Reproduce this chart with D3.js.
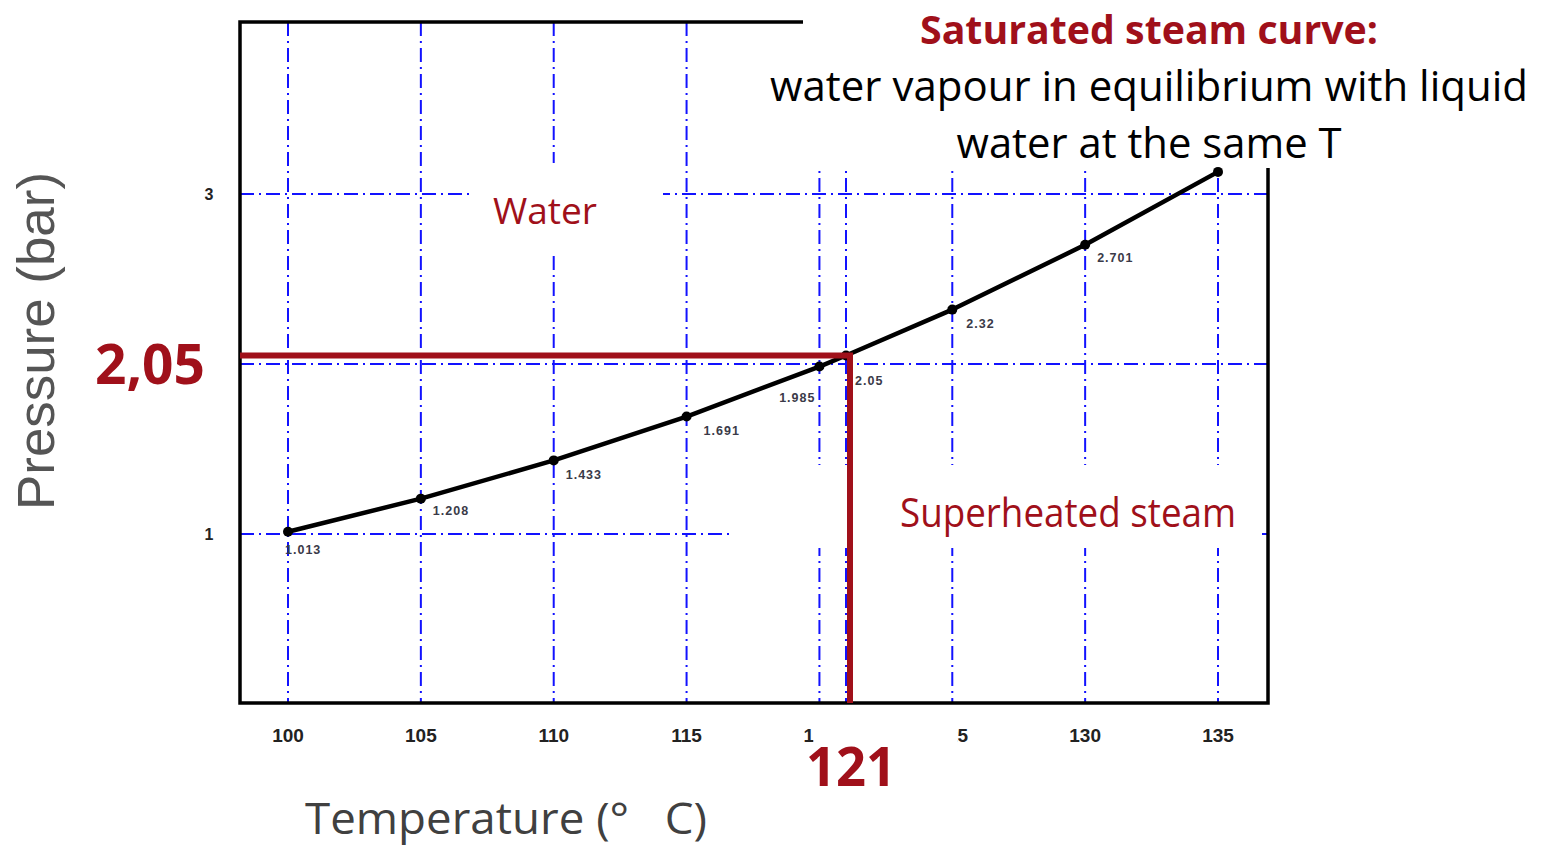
<!DOCTYPE html>
<html>
<head>
<meta charset="utf-8">
<script src="https://cdn.jsdelivr.net/npm/d3@7"></script>
<style>
    body { margin: 0; background: #fff; }
    svg { display: block; }
</style>
</head>
<body>
<div id="chart"></div>
<script>
// saturated steam table, temperature in C, pressure in bar
const temps = [100, 105, 110, 115, 120, 121, 125, 130, 135];
const pressures = [1.013, 1.208, 1.433, 1.691, 1.985, 2.05, 2.32, 2.701, 3.13];
const pointLabels = ["1.013", "1.208", "1.433", "1.691", "1.985", "2.05", "2.32", "2.701", ""];

const gridTemps = [100, 105, 110, 115, 120, 121, 125, 130, 135];
const gridPressures = [1, 2, 3];
const xTickLabels = [100, 105, 110, 115, 120, 125, 130, 135];
const yTickLabels = [1, 3];

const markTemp = 121;
const markPressure = 2.05;

const width = 1546, height = 845;
const frame = {left: 240, right: 1268, top: 22, bottom: 703};
const red = "#a0101a";
const blue = "#1212ff";

const svg = d3.select("#chart").append("svg")
    .attr("width", width)
    .attr("height", height);

const x = d3.scaleLinear().domain([100, 135]).range([288, 1218]);
const y = d3.scaleLinear().domain([1, 3]).range([534, 194]);

// dash-dot grid
const grid = svg.append("g")
    .attr("stroke", blue)
    .attr("stroke-width", 2)
    .attr("stroke-dasharray", "14,5,2,5");

grid.selectAll("line.v").data(gridTemps).enter().append("line")
    .attr("class", "v")
    .attr("x1", d => x(d)).attr("x2", d => x(d))
    .attr("y1", frame.top).attr("y2", frame.bottom);

grid.selectAll("line.h").data(gridPressures).enter().append("line")
    .attr("class", "h")
    .attr("x1", frame.left).attr("x2", frame.right)
    .attr("y1", d => y(d)).attr("y2", d => y(d));

// frame
svg.append("rect")
    .attr("x", frame.left).attr("y", frame.top)
    .attr("width", frame.right - frame.left)
    .attr("height", frame.bottom - frame.top)
    .attr("fill", "none")
    .attr("stroke", "#000")
    .attr("stroke-width", 3.5);

// tick labels
svg.append("g")
    .attr("font-family", "Liberation Sans, Arial, sans-serif")
    .attr("font-weight", "bold")
    .attr("font-size", 19)
    .attr("fill", "#222")
    .attr("text-anchor", "middle")
    .selectAll("text").data(xTickLabels).enter().append("text")
        .attr("x", d => x(d))
        .attr("y", 742)
        .text(d => d);

svg.append("g")
    .attr("font-family", "Liberation Sans, Arial, sans-serif")
    .attr("font-weight", "bold")
    .attr("font-size", 16)
    .attr("fill", "#222")
    .attr("text-anchor", "middle")
    .selectAll("text").data(yTickLabels).enter().append("text")
        .attr("x", 209)
        .attr("y", d => y(d) + 6)
        .text(d => d);

// white boxes that sit over the original chart
const boxes = [
    {x: 803, y: 0, w: 743, h: 168},
    {x: 472, y: 163, w: 191, h: 92},
    {x: 730, y: 465, w: 532, h: 83},
    {x: x(120) - 6, y: 718, w: x(125) - x(120) + 11, h: 28}
];
svg.append("g").selectAll("rect").data(boxes).enter().append("rect")
    .attr("x", d => d.x).attr("y", d => d.y)
    .attr("width", d => d.w).attr("height", d => d.h)
    .attr("fill", "#fff");

// the curve
const points = temps.map((t, i) => ({t: t, p: pressures[i], label: pointLabels[i]}));

const line = d3.line()
    .x(d => x(d.t))
    .y(d => y(d.p));

svg.append("path")
    .datum(points)
    .attr("d", line)
    .attr("fill", "none")
    .attr("stroke", "#000")
    .attr("stroke-width", 4.5)
    .attr("stroke-linejoin", "round");

svg.append("g").selectAll("circle").data(points).enter().append("circle")
    .attr("cx", d => x(d.t))
    .attr("cy", d => y(d.p))
    .attr("r", 5)
    .attr("fill", "#000");

// value labels next to points (dx, dy, anchor)
const labelPlace = {
    100: [-3, 22, "start"], 105: [12, 16, "start"], 110: [12, 19, "start"],
    115: [17, 18, "start"], 120: [-4, 35, "end"], 121: [9, 29, "start"],
    125: [14, 18, "start"], 130: [12, 17, "start"], 135: [0, 0, "start"]
};

svg.append("g")
    .attr("font-family", "Liberation Sans, Arial, sans-serif")
    .attr("font-weight", "bold")
    .attr("font-size", 12.5)
    .attr("letter-spacing", 1)
    .attr("fill", "#3a3a48")
    .selectAll("text").data(points).enter().append("text")
        .attr("x", d => x(d.t) + labelPlace[d.t][0])
        .attr("y", d => y(d.p) + labelPlace[d.t][1])
        .attr("text-anchor", d => labelPlace[d.t][2])
        .text(d => d.label);

// red reading lines for 121 C / 2.05 bar
svg.append("path")
    .attr("d", "M" + frame.left + "," + y(markPressure)
        + "H" + (x(markTemp) + 4)
        + "V" + frame.bottom)
    .attr("fill", "none")
    .attr("stroke", red)
    .attr("stroke-width", 6)
    .attr("stroke-linejoin", "miter");

// annotation texts
function addText(str, opts) {
    let t = svg.append("text")
        .attr("x", opts.x)
        .attr("y", opts.y)
        .attr("font-family", opts.family || "Open Sans, Noto Sans, sans-serif")
        .attr("font-size", opts.size)
        .attr("font-weight", opts.weight || "normal")
        .attr("fill", opts.fill || "#000")
        .attr("text-anchor", opts.anchor || "middle")
        .style("white-space", "pre")
        .text(str);
    if (opts.len) {
        t.attr("textLength", opts.len).attr("lengthAdjust", "spacingAndGlyphs");
    }
    if (opts.rotate) {
        t.attr("transform", "rotate(" + opts.rotate + "," + opts.x + "," + opts.y + ")");
    }
    return t;
}

addText("Saturated steam curve:", {x: 1149, y: 44, size: 40, weight: "bold", fill: red, len: 458});
addText("water vapour in equilibrium with liquid", {x: 1149, y: 101, size: 42, len: 758});
addText("water at the same T", {x: 1149, y: 158, size: 42, len: 385});

addText("Water", {x: 545, y: 224, size: 37, fill: red, len: 104});
addText("Superheated steam", {x: 1068, y: 527, size: 40, fill: red, len: 336});

addText("2,05", {x: 150, y: 384, size: 56, weight: "bold", fill: red, len: 110});
addText("121", {x: 851, y: 786, size: 54, weight: "bold", fill: red, len: 90});

addText("Temperature (\u00b0   C)", {x: 305, y: 834, size: 43, fill: "#404040", anchor: "start", len: 402});
addText("Pressure (bar)", {x: 54, y: 341, size: 52, fill: "#555",
    family: "Liberation Sans, Arial, sans-serif", rotate: -90, len: 338});
</script>
</body>
</html>
